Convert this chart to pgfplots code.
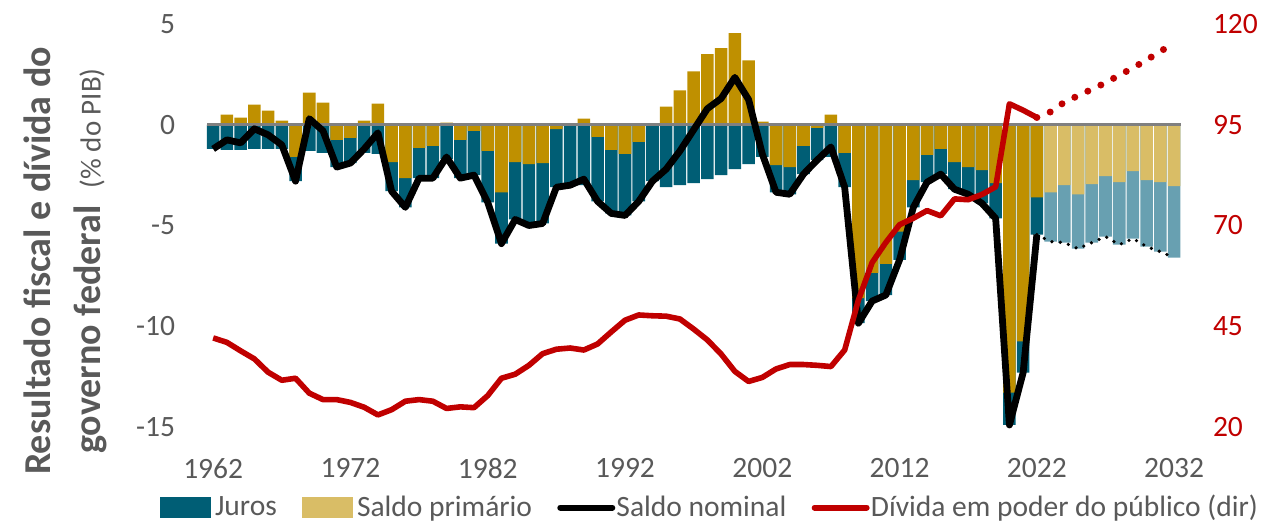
\documentclass[border=0pt]{standalone}
\usepackage{fontspec}
\setmainfont{Carlito}
\usepackage{pgfplots}
\usepackage{pgfplotstable}
\pgfplotsset{compat=1.18}
\definecolor{cteal}{RGB}{0,94,117}
\definecolor{cgold}{RGB}{191,144,0}
\definecolor{cteall}{RGB}{104,160,177}
\definecolor{cgoldl}{RGB}{217,189,102}
\definecolor{cred}{RGB}{192,0,0}
\definecolor{cgray}{RGB}{89,89,89}
\definecolor{czero}{RGB}{128,128,128}

% T = bottom of teal (juros) bar, G = saldo primario, N = saldo nominal, D = divida (dir)
\pgfplotstableread{
year T G N D
1962 -1.2 0.0 -1.2 42.1
1963 -1.25 0.5 -0.75 41.0
1964 -1.25 0.35 -0.9 38.9
1965 -1.2 1.0 -0.2 36.9
1966 -1.2 0.7 -0.5 33.6
1967 -1.2 0.2 -1.0 31.6
1968 -2.8 -1.6 -2.8 32.1
1969 -1.3 1.6 0.3 28.4
1970 -1.4 1.1 -0.3 26.8
1971 -2.1 -0.75 -2.1 26.8
1972 -1.9 -0.65 -1.9 26.1
1973 -1.4 0.2 -1.2 24.9
1974 -1.45 1.05 -0.4 23.0
1975 -3.3 -1.85 -3.3 24.3
1976 -4.1 -2.65 -4.1 26.4
1977 -2.65 -1.15 -2.65 26.8
1978 -2.65 -1.05 -2.65 26.4
1979 -1.7 0.1 -1.6 24.6
1980 -2.65 -0.75 -2.65 25.0
1981 -2.5 -0.3 -2.5 24.8
1982 -3.85 -1.3 -3.85 27.8
1983 -5.9 -3.35 -5.9 32.1
1984 -4.7 -1.85 -4.7 33.1
1985 -5.0 -1.95 -5.0 35.3
1986 -4.9 -1.9 -4.9 38.2
1987 -3.1 -0.22 -3.1 39.3
1988 -3.0 -0.05 -3.0 39.6
1989 -3.0 0.3 -2.7 39.1
1990 -3.8 -0.6 -3.8 40.6
1991 -4.4 -1.25 -4.4 43.6
1992 -4.5 -1.45 -4.5 46.5
1993 -3.8 -0.85 -3.8 47.8
1994 -2.8 0.0 -2.8 47.6
1995 -3.1 0.9 -2.2 47.5
1996 -3.0 1.7 -1.3 46.8
1997 -2.9 2.65 -0.25 44.3
1998 -2.7 3.5 0.8 41.6
1999 -2.5 3.8 1.3 38.1
2000 -2.2 4.55 2.35 33.8
2001 -1.95 3.2 1.25 31.3
2002 -1.6 0.15 -1.45 32.3
2003 -3.35 -2.0 -3.35 34.4
2004 -3.45 -2.1 -3.45 35.5
2005 -2.45 -1.05 -2.45 35.5
2006 -1.75 -0.15 -1.75 35.3
2007 -1.6 0.5 -1.1 35.0
2008 -3.1 -1.4 -3.1 39.1
2009 -9.85 -8.6 -9.85 51.5
2010 -8.75 -7.35 -8.75 60.8
2011 -8.45 -6.9 -8.45 65.8
2012 -6.7 -5.3 -6.7 70.2
2013 -4.1 -2.75 -4.1 71.8
2014 -2.85 -1.5 -2.85 73.7
2015 -2.45 -1.2 -2.45 72.4
2016 -3.2 -1.85 -3.2 76.6
2017 -3.45 -2.1 -3.45 76.4
2018 -3.9 -2.25 -3.9 77.7
2019 -4.65 -2.9 -4.65 79.6
2020 -14.9 -13.3 -14.9 100.2
2021 -12.3 -10.75 -12.3 98.6
2022 -5.45 -3.6 -5.45 96.8
}\hist

\pgfplotstableread{
year T G N D
2022 -5.45 -3.6 -5.45 96.8
2023 -5.8 -3.35 -5.8 98.2
2024 -5.85 -3.0 -5.85 100.6
2025 -6.15 -3.45 -6.15 102.2
2026 -5.85 -2.95 -5.85 103.8
2027 -5.55 -2.55 -5.55 105.4
2028 -5.95 -2.85 -5.95 107.3
2029 -5.65 -2.3 -5.65 109.1
2030 -6.05 -2.75 -6.05 111.1
2031 -6.3 -2.85 -6.3 113.2
2032 -6.6 -3.05 -6.6 115.3
}\proj

\begin{document}
\begin{tikzpicture}[x=1pt,y=1pt]
\useasboundingbox (0,0) rectangle (632,263);
\pgfplotsset{common/.style={
  at={(103.5pt,49.5pt)}, anchor=south west,
  width=487pt, height=201.5pt, scale only axis,
  xmin=1961.55, xmax=2032.5, clip=false,
  axis line style={draw=none}, major tick length=0pt, tick style={draw=none},
  ticklabel style={font=\fontsize{14.75}{16}\selectfont},
  /pgf/number format/assume math mode=true,
  /pgf/number format/1000 sep={},
}}
\begin{axis}[common,
  ymin=-15, ymax=5, ytick={-15,-10,-5,0,5},
  xtick={1962,1972,...,2032},
  yticklabel style={anchor=east, inner sep=0pt, xshift=-15.8pt, text=cgray},
  xticklabel style={anchor=north, inner sep=0pt, yshift=-15.6pt, text=cgray},
]
\addplot[ybar, bar shift=0pt, bar width=0.915, fill=cteal, draw=none] table[x=year,y=T]{\hist};
\addplot[ybar, bar shift=0pt, bar width=0.915, fill=cgold, draw=none] table[x=year,y=G]{\hist};
\addplot[ybar, bar shift=0pt, bar width=0.915, fill=cteall, draw=none, restrict x to domain=2022.5:2033] table[x=year,y=T]{\proj};
\addplot[ybar, bar shift=0pt, bar width=0.915, fill=cgoldl, draw=none, restrict x to domain=2022.5:2033] table[x=year,y=G]{\proj};
\addplot[czero, line width=1.3pt] coordinates {(1961.55,0) (2032.5,0)};
\addplot[black, line width=3.4pt, line join=round] table[x=year,y=N]{\hist};
\addplot[black, line width=1.8pt, line cap=round, dash pattern=on 0pt off 4.2pt] table[x=year,y=N]{\proj};
\end{axis}
\begin{axis}[common,
  ymin=20, ymax=120, ytick={20,45,70,95,120},
  axis y line*=right, hide x axis,
  yticklabel style={anchor=west, inner sep=0pt, xshift=15.8pt, text=cred},
  legend columns=4,
  legend cell align=left,
  legend style={at={(0.516,-0.2)}, anchor=center, draw=none, fill=none,
    font=\fontsize{14.75}{16}\selectfont, text=cgray,
    nodes={inner sep=0.6pt},
    /tikz/every even column/.append style={column sep=12pt}},
]
\addlegendimage{legend image code/.code={\fill[cteal] (0pt,-5pt) rectangle (25pt,5pt); \path (26.5pt,0pt);}}
\addlegendentry{Juros}
\addlegendimage{legend image code/.code={\fill[cgoldl] (0pt,-5pt) rectangle (25pt,5pt); \path (26.5pt,0pt);}}
\addlegendentry{Saldo primário}
\addlegendimage{legend image code/.code={\draw[black, line width=3pt, line cap=round] (1.5pt,0pt) -- (27.5pt,0pt);}}
\addlegendentry{Saldo nominal}
\addlegendimage{legend image code/.code={\draw[cred, line width=3pt, line cap=round] (1.5pt,0pt) -- (27.5pt,0pt);}}
\addlegendentry{Dívida em poder do público (dir)}
\addplot[cred, line width=2.8pt, line join=round, forget plot] table[x=year,y=D]{\hist};
\addplot[cred, line width=3.5pt, line cap=round, dash pattern=on 0pt off 7.2pt, forget plot] table[x=year,y=D]{\proj};
\end{axis}
\node[rotate=90, align=center, text=cgray, font=\fontsize{19}{25}\selectfont\bfseries] at (32.75,132.5)
  {Resultado fiscal e dívida do\\governo federal\ \ {\mdseries\fontsize{14.5}{16}\selectfont(\% do PIB)}};
\end{tikzpicture}
\end{document}
